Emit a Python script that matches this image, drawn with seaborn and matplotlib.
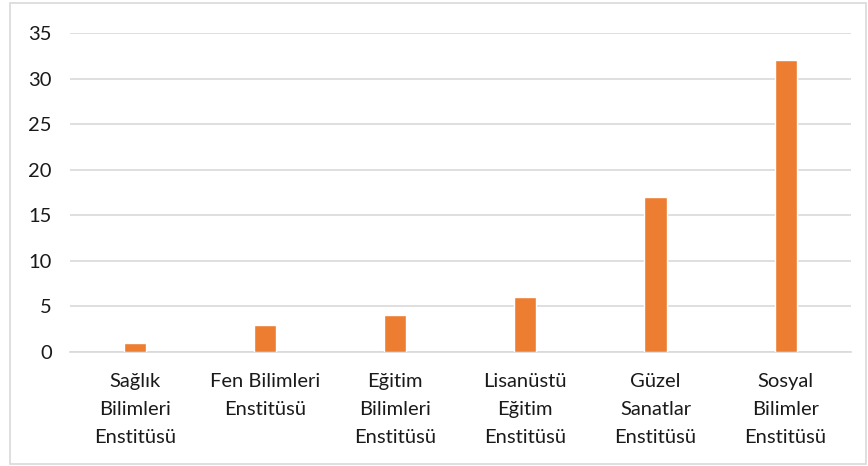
import matplotlib
matplotlib.use("Agg")
import matplotlib.pyplot as plt
import matplotlib.patches as patches
import seaborn as sns
import pandas as pd

sns.set_style("white")
plt.rcParams['font.family'] = ['Lato', 'DejaVu Sans']

categories = [
    "Sağlık\nBilimleri\nEnstitüsü",
    "Fen Bilimleri\nEnstitüsü",
    "Eğitim\nBilimleri\nEnstitüsü",
    "Lisanüstü\nEğitim\nEnstitüsü",
    "Güzel\nSanatlar\nEnstitüsü",
    "Sosyal\nBilimler\nEnstitüsü",
]
values = [1, 3, 4, 6, 17, 32]
y_ticks = [0, 5, 10, 15, 20, 25, 30, 35]

df = pd.DataFrame({"Enstitü": categories, "Sayı": values})

text_color = "#1a1a1a"
grid_color = "#D9D9D9"

fig = plt.figure(figsize=(8.68, 4.66), dpi=100)
ax = fig.add_axes([0.0806, 0.245, 0.8994, 0.684])

sns.barplot(data=df, x="Enstitü", y="Sayı", color="#ED7D31", width=0.17,
            saturation=1, ax=ax, zorder=3)

ax.set_ylim(0, 35)
ax.set_xlim(-0.5, len(categories) - 0.5)
ax.set_yticks(y_ticks)
ax.set_yticklabels([str(t) for t in y_ticks])
ax.yaxis.grid(True, color=grid_color, linewidth=1.2, zorder=0)
ax.set_axisbelow(True)
ax.set_xlabel("")
ax.set_ylabel("")

for s in ["top", "right", "left"]:
    ax.spines[s].set_visible(False)
ax.spines["bottom"].set_color(grid_color)
ax.spines["bottom"].set_linewidth(1.2)

ax.tick_params(axis="y", length=0, pad=13, labelsize=14.5, labelcolor=text_color)
ax.tick_params(axis="x", length=0, pad=15, labelsize=14.5, labelcolor=text_color)
for lbl in ax.get_xticklabels():
    lbl.set_linespacing(1.78)
    lbl.set_verticalalignment("top")

# light frame around the chart
fig.patches.append(patches.Rectangle((10 / 868, 2 / 466), 856 / 868, 461 / 466,
                                     transform=fig.transFigure, fill=False,
                                     edgecolor=grid_color, linewidth=1.2))

plt.savefig("out.png", dpi=100)
plt.close()
